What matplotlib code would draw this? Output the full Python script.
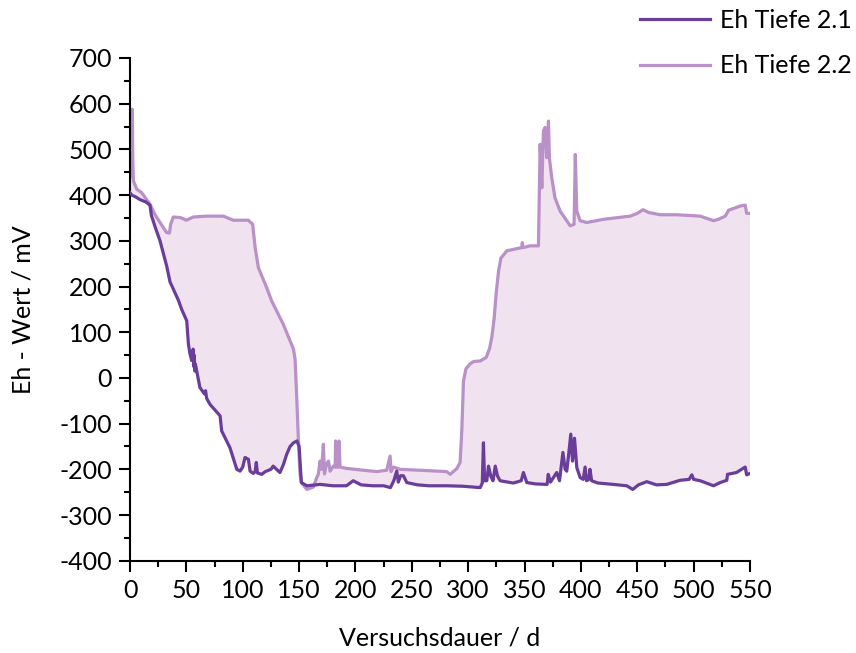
import matplotlib
matplotlib.use("Agg")
import matplotlib.pyplot as plt
import numpy as np

# Eh Tiefe 2.1 (days, mV)
days_21 = [0, 1.5, 5, 9, 14, 17.7, 19, 23, 26.6, 32.5, 35.5, 42.9, 45.8, 50.3, 51.8, 53, 54.7,
           56, 56.5, 57, 57.5, 58, 60, 62, 66, 67, 68, 71, 79.9, 81.3, 88.7, 94.7, 97.6, 100,
           102, 105, 106.5, 109.4, 111, 112, 113, 116.8, 120, 125, 127, 130, 133, 136, 139,
           142, 145, 148, 150, 152, 156.8, 168.6, 180, 192, 198, 205, 215, 225, 231, 234,
           236.6, 238, 240, 242.5, 245.5, 255, 265, 281, 295, 310.6, 312.5, 313.5, 314.5,
           316.5, 318, 320, 322, 324, 326, 328.3, 335, 340, 347, 349, 352, 360, 370, 371, 373,
           378.5, 381, 384, 386, 387.4, 389, 391, 392.5, 394.3, 396.3, 399.3, 402, 403.7, 405,
           407, 408, 409.5, 415, 428.8, 440.6, 446, 451, 458.4, 467, 476, 488, 496, 498.4,
           500, 505.8, 517.6, 523.5, 529.4, 530, 538, 545.7, 547, 550]
eh_21 = [405, 400, 396, 390, 385, 378, 355, 325, 300, 245, 210, 170, 150, 125, 74, 55, 38,
         63, 25, 50, 15, 30, 5, -21, -35, -28, -45, -58, -83, -116, -153, -200, -204, -195,
         -174, -178, -204, -209, -205, -185, -208, -211, -205, -200, -193, -200, -207, -190,
         -167, -150, -142, -138, -150, -229, -236, -233, -236, -236, -225, -234, -236, -236,
         -240, -225, -204, -228, -214, -214, -229, -234, -236, -236, -237, -240, -230, -142,
         -225, -225, -193, -215, -225, -193, -215, -225, -228, -230, -225, -207, -229, -232,
         -233, -211, -228, -207, -225, -163, -200, -204, -170, -123, -182, -132, -196, -218,
         -222, -195, -225, -222, -200, -225, -230, -233, -236, -244, -234, -227, -234, -233,
         -224, -222, -212, -222, -225, -236, -229, -224, -211, -207, -195, -212, -209]

# Eh Tiefe 2.2 (days, mV)
days_22 = [0, 1, 2, 2.5, 3, 6, 10.4, 13.3, 17.7, 22, 29.5, 32.5, 35, 36, 38.4, 44.4, 50, 56,
           68, 82.8, 91.7, 105, 108.8, 111, 113.9, 121.3, 125.7, 130, 136, 145, 146.4, 148,
           149.4, 150.8, 152, 156.8, 162.6, 165.6, 167, 168.6, 170, 171.5, 172.5, 174, 176,
           177.5, 180.4, 182, 182.4, 183, 185, 185.4, 186.3, 192, 207, 218.9, 227.7, 230.7,
           231.5, 233.6, 239.6, 257, 281, 284, 290, 292.8, 294.3, 295.8, 298, 301.7, 305,
           310.6, 316, 319, 321, 323, 325, 327, 329, 334.2, 341.6, 347.5, 348, 348.5, 355,
           362.3, 363.8, 365.3, 366.7, 368.2, 369.7, 371.2, 372, 374.1, 377, 381.5, 387.4,
           390.4, 393.9, 395, 396.3, 399.3, 405.2, 420, 443.7, 450, 455, 460, 470.3, 485,
           505.8, 517.6, 522, 528, 531, 541.3, 545.7, 547, 550]
eh_22 = [440, 560, 588, 470, 431, 413, 405, 395, 380, 358, 329, 318, 317, 336, 352, 351, 345,
         352, 354, 354, 345, 345, 336, 285, 241, 197, 168, 147, 117, 63, 41, -50, -138, -211,
         -229, -244, -239, -218, -211, -182, -200, -145, -210, -190, -182, -204, -193, -195,
         -138, -195, -195, -138, -195, -198, -202, -205, -202, -171, -205, -195, -200, -202,
         -205, -211, -198, -185, -116, -7, 20, 31, 36, 37, 45, 65, 90, 130, 190, 235, 262,
         278, 282, 285, 296, 285, 289, 289, 511, 416, 540, 548, 482, 562, 482, 438, 394, 365,
         344, 333, 336, 489, 365, 344, 340, 347, 354, 360, 368, 362, 357, 357, 354, 344, 347,
         354, 367, 376, 378, 360, 360]

labels = ["Eh Tiefe 2.1", "Eh Tiefe 2.2"]
x_ticks = np.arange(0, 551, 50)
y_ticks = np.arange(-400, 701, 100)

dark = "#6a3d9a"
light = "#b990c8"
fill_col = "#f0e2ef"

plt.rcParams["font.family"] = ["Lato", "DejaVu Sans"]
plt.rcParams["axes.unicode_minus"] = False

fig = plt.figure(figsize=(8.56, 6.53), dpi=100)
ax = fig.add_axes([0.1519, 0.1413, 0.7243, 0.7699])

# shaded area between the two series
poly_x = np.concatenate([days_21, days_22[::-1]])
poly_y = np.concatenate([eh_21, eh_22[::-1]])
ax.fill(poly_x, poly_y, color=fill_col, lw=0, zorder=1)

l2, = ax.plot(days_22, eh_22, color=light, lw=2.3, zorder=2, label=labels[1])
l1, = ax.plot(days_21, eh_21, color=dark, lw=2.3, zorder=3, label=labels[0])

ax.set_xlim(0, 550)
ax.set_ylim(-400, 700)
ax.set_xticks(x_ticks)
ax.set_yticks(y_ticks)
ax.set_xticks(np.arange(25, 551, 50), minor=True)
ax.set_yticks(np.arange(-350, 700, 100), minor=True)

for s in ["top", "right"]:
    ax.spines[s].set_visible(False)
for s in ["left", "bottom"]:
    ax.spines[s].set_linewidth(1.5)
ax.tick_params(which="major", direction="out", length=8, width=1.5, labelsize=18, pad=5)
ax.tick_params(which="minor", direction="out", length=4, width=1.5)

ax.set_xlabel("Versuchsdauer / d", fontsize=18, labelpad=18)
ax.set_ylabel("Eh - Wert / mV", fontsize=18, labelpad=18)

fig.legend(handles=[l1, l2], labels=labels, loc="upper right",
           bbox_to_anchor=(1.001, 0.994), frameon=False, fontsize=18,
           borderpad=0.2, borderaxespad=0,
           handlelength=2.8, handletextpad=0.4, labelspacing=0.9)

fig.savefig("out.png", dpi=100)
